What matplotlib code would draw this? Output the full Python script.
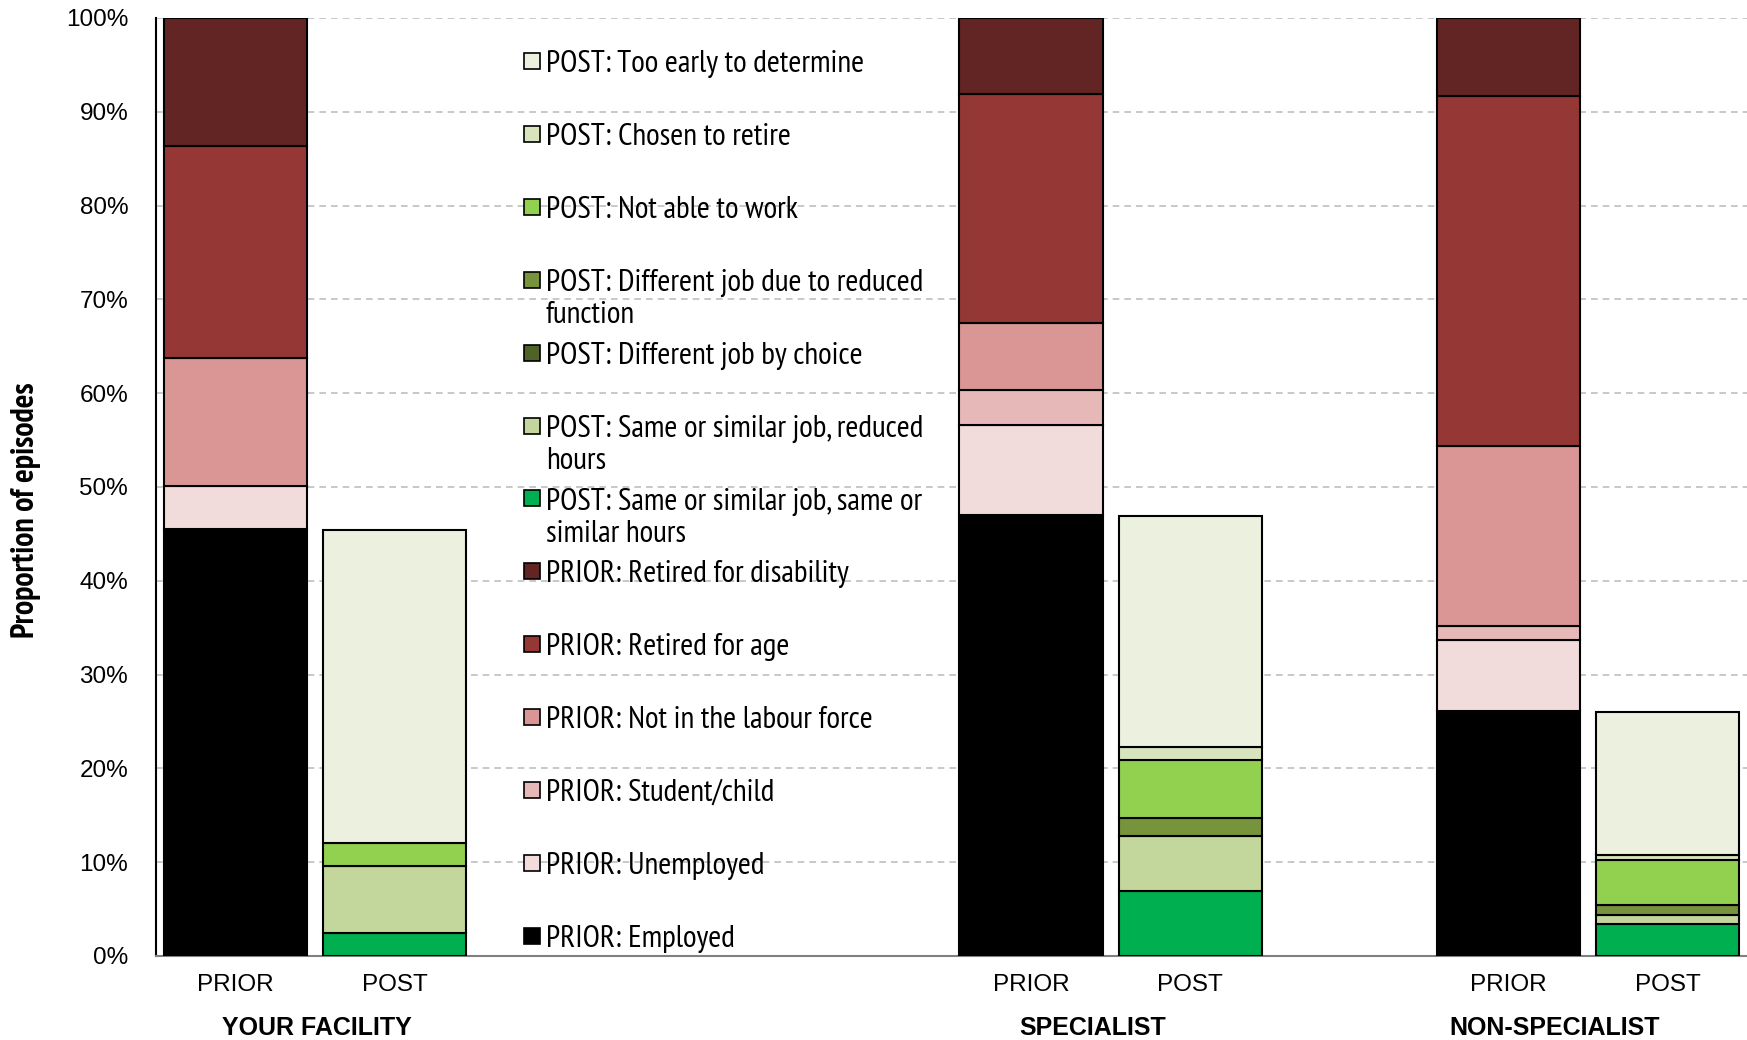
import matplotlib.pyplot as plt
from matplotlib.patches import Rectangle
import numpy as np

# bars: YOUR FACILITY prior/post, SPECIALIST prior/post, NON-SPECIALIST prior/post
bar_labels = ["PRIOR", "POST", "PRIOR", "POST", "PRIOR", "POST"]
positions = [0, 1, 5, 6, 8, 9]
groups = ["YOUR FACILITY", "SPECIALIST", "NON-SPECIALIST"]
group_x = [0.51, 5.39, 8.29]

# stacking order, bottom to top (values in %)
prior_employed = [45.5, 0, 47.0, 0, 26.1, 0]
prior_unemployed = [4.6, 0, 9.6, 0, 7.6, 0]
prior_student = [0, 0, 3.7, 0, 1.5, 0]
prior_not_lf = [13.7, 0, 7.2, 0, 19.2, 0]
prior_ret_age = [22.6, 0, 24.4, 0, 37.3, 0]
prior_ret_dis = [13.6, 0, 8.1, 0, 8.3, 0]
post_same_hours = [0, 2.5, 0, 6.9, 0, 3.4]
post_reduced_hours = [0, 7.1, 0, 5.9, 0, 1.0]
post_diff_choice = [0, 0, 0, 0, 0, 0]
post_diff_reduced = [0, 0, 0, 1.9, 0, 1.0]
post_not_able = [0, 2.4, 0, 6.2, 0, 4.8]
post_chosen_retire = [0, 0, 0, 1.4, 0, 0.6]
post_too_early = [0, 33.4, 0, 24.6, 0, 15.2]

series = [
    ("PRIOR: Employed", prior_employed, "#000000"),
    ("PRIOR: Unemployed", prior_unemployed, "#f2dcdb"),
    ("PRIOR: Student/child", prior_student, "#e6b9b8"),
    ("PRIOR: Not in the labour force", prior_not_lf, "#d99694"),
    ("PRIOR: Retired for age", prior_ret_age, "#953735"),
    ("PRIOR: Retired for disability", prior_ret_dis, "#632523"),
    ("POST: Same or similar job, same or\nsimilar hours", post_same_hours, "#00b050"),
    ("POST: Same or similar job, reduced\nhours", post_reduced_hours, "#c3d69b"),
    ("POST: Different job by choice", post_diff_choice, "#4f6228"),
    ("POST: Different job due to reduced\nfunction", post_diff_reduced, "#77933c"),
    ("POST: Not able to work", post_not_able, "#92d050"),
    ("POST: Chosen to retire", post_chosen_retire, "#d7e4bd"),
    ("POST: Too early to determine", post_too_early, "#ebf1de"),
]

narrow = ["Arial Narrow", "Liberation Sans Narrow", "PT Sans Narrow",
          "Archivo Narrow", "Roboto Condensed", "DejaVu Sans"]
wide = ["Arimo", "Liberation Sans", "DejaVu Sans"]

W, H = 1747, 1040
fig = plt.figure(figsize=(W / 100, H / 100), dpi=100)
ax = fig.add_axes([156 / W, 1 - 956 / H, 1 - 156 / W, (956 - 18) / H])

bottom = np.zeros(len(positions))
for name, vals, color in series:
    vals = np.array(vals, dtype=float)
    lw = np.where(vals > 0, 1.5, 0)
    ax.bar(positions, vals, width=0.9, bottom=bottom, color=color,
           edgecolor="black", linewidth=lw, zorder=3)
    bottom += vals

ax.set_xlim(-0.5, 9.5)
ax.set_ylim(0, 100)
ax.set_yticks(np.arange(0, 101, 10))
ax.set_yticklabels([f"{v}%" for v in range(0, 101, 10)])
ax.set_xticks(positions)
ax.set_xticklabels(bar_labels)
ax.tick_params(axis="y", length=0, pad=20, labelsize=17.5)
ax.tick_params(axis="x", length=0, pad=13, labelsize=17.5)
for lab in ax.get_xticklabels() + ax.get_yticklabels():
    lab.set_family(wide)

ax.yaxis.grid(True, color="#bfbfbf", linestyle=(0, (4, 3)), linewidth=1.2, zorder=0)
ax.spines["top"].set_visible(False)
ax.spines["right"].set_visible(False)
ax.spines["bottom"].set_color("#808080")
ax.spines["bottom"].set_linewidth(1.5)
ax.spines["left"].set_color("black")
ax.spines["left"].set_linewidth(1.5)

fig.text(26 / W, 1 - 510 / H, "Proportion of episodes", rotation=90,
         ha="center", va="center", fontsize=23, fontweight="bold", family=narrow)

for gx, g in zip(group_x, groups):
    fig.text(ax.transData.transform((gx, 0))[0] / W, 1 - 1028 / H, g,
             ha="center", va="center", fontsize=18, fontweight="bold", family=wide)

# legend drawn Excel-style: fixed spacing, handle on first line
y0, step = 61, 72.9
for i, (name, vals, color) in enumerate(series[::-1]):
    yc = y0 + i * step
    fig.patches.append(Rectangle((524 / W, 1 - (yc + 8) / H), 16 / W, 16 / H,
                                 transform=fig.transFigure, facecolor=color,
                                 edgecolor="black", linewidth=1.2))
    fig.text(546 / W, 1 - (yc - 11) / H, name, ha="left", va="top",
             fontsize=22.6, linespacing=1.2, family=narrow)

fig.savefig("out.png", dpi=100)
